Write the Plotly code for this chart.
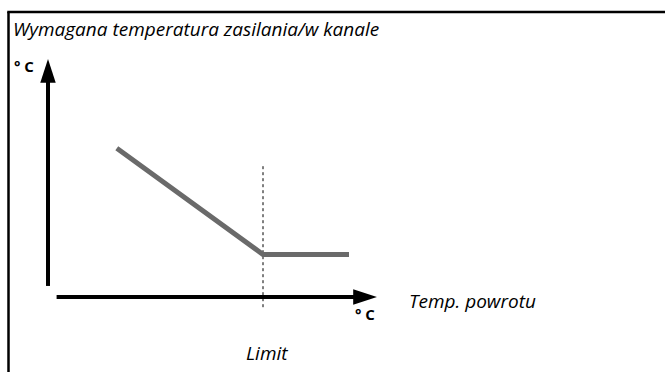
import plotly.graph_objects as go

# Curve: required supply/duct temperature vs. return temperature
return_temp = [16, 50, 70]
supply_temp = [35, 10, 10]
limit_x = 50

# Axis extents (schematic units)
x_axis_start, x_axis_end = 2, 76.5
y_axis_start, y_axis_end = 2.6, 56
limit_line_y = [-2.4, 31]

X_RANGE = [-48 / 4.3, (665 - 48) / 4.3]
Y_RANGE = [(297 - 372) / 4.25, 297 / 4.25]

FONT = "Open Sans"
BLACK = "#000000"
GREY = "#6a6a6a"

fig = go.Figure()

# Horizontal axis with arrowhead
fig.add_trace(go.Scatter(
    x=[x_axis_start, x_axis_end - 3], y=[0, 0], mode="lines",
    line=dict(color=BLACK, width=4), hoverinfo="skip"))
fig.add_trace(go.Scatter(
    x=[x_axis_end], y=[0], mode="markers",
    marker=dict(symbol="arrow", size=25, angle=90, color=BLACK,
                line=dict(width=0)),
    hoverinfo="skip"))

# Vertical axis with arrowhead
fig.add_trace(go.Scatter(
    x=[0, 0], y=[y_axis_start, y_axis_end - 3], mode="lines",
    line=dict(color=BLACK, width=4), hoverinfo="skip"))
fig.add_trace(go.Scatter(
    x=[0], y=[y_axis_end], mode="markers",
    marker=dict(symbol="arrow", size=25, angle=0, color=BLACK,
                line=dict(width=0)),
    hoverinfo="skip"))

# Limit marker line
fig.add_trace(go.Scatter(
    x=[limit_x, limit_x], y=limit_line_y, mode="lines",
    line=dict(color=BLACK, width=1, dash="dot"), hoverinfo="skip"))

# Characteristic curve
fig.add_trace(go.Scatter(
    x=return_temp, y=supply_temp, mode="lines",
    line=dict(color=GREY, width=5), hoverinfo="skip"))

annotations = [
    dict(text="<i>Wymagana temperatura zasilania/w kanale</i>",
         xref="paper", yref="paper", x=11 / 665, y=1 - 29 / 372,
         xanchor="left", yanchor="middle",
         font=dict(family=FONT, size=19, color=BLACK)),
    dict(text="<i>Temp. powrotu</i>", x=83.4, y=-0.9,
         xanchor="left", yanchor="middle",
         font=dict(family=FONT, size=19, color=BLACK)),
    dict(text="<i>Limit</i>", x=limit_x + 0.9, y=-13.2,
         xanchor="center", yanchor="middle",
         font=dict(family=FONT, size=19, color=BLACK)),
    dict(text="<b>° C</b>", x=-5.6, y=54.4,
         xanchor="center", yanchor="middle",
         font=dict(family=FONT, size=15, color=BLACK)),
    dict(text="<b>° C</b>", x=73.7, y=-4.0,
         xanchor="center", yanchor="middle",
         font=dict(family=FONT, size=15, color=BLACK)),
]
for a in annotations:
    a.setdefault("showarrow", False)

fig.update_layout(
    width=665, height=372,
    margin=dict(l=0, r=0, t=0, b=0),
    paper_bgcolor="white", plot_bgcolor="white",
    showlegend=False,
    xaxis=dict(range=X_RANGE, visible=False, fixedrange=True),
    yaxis=dict(range=Y_RANGE, visible=False, fixedrange=True),
    annotations=annotations,
    shapes=[
        # Open frame: top and left edges only
        dict(type="line", xref="paper", yref="paper",
             x0=8.5 / 665, x1=8.5 / 665, y0=0, y1=1 - 12 / 372,
             line=dict(color=BLACK, width=2.5)),
        dict(type="line", xref="paper", yref="paper",
             x0=7.25 / 665, x1=1, y0=1 - 12 / 372, y1=1 - 12 / 372,
             line=dict(color=BLACK, width=2.5)),
    ],
)

fig.write_html("out.html", config={"staticPlot": True})
